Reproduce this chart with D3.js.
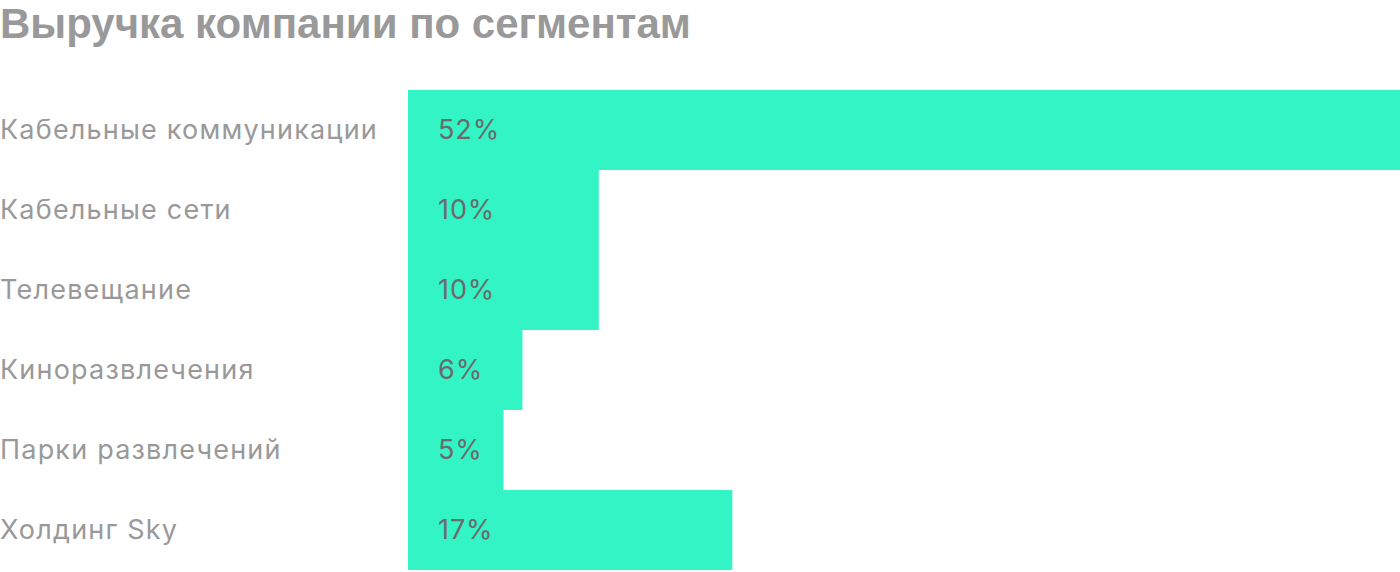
<!DOCTYPE html>
<html lang="ru">
<head>
<meta charset="utf-8">
<title>Выручка компании по сегментам</title>
<script src="https://d3js.org/d3.v7.min.js"></script>
<style>
  body { margin: 0; background: #fff; }
  svg { display: block; }
</style>
</head>
<body>
<script>
var segments = ["Кабельные коммуникации", "Кабельные сети", "Телевещание", "Киноразвлечения", "Парки развлечений", "Холдинг Sky"];
var shares = [52, 10, 10, 6, 5, 17];
var shareLabels = ["52%", "10%", "10%", "6%", "5%", "17%"];

var w = 1400, h = 572;
var svg = d3.select("body").append("svg").attr("width", w).attr("height", h);

svg.append("text")
  .attr("x", 0).attr("y", 38)
  .attr("font-family", "Liberation Sans, Arial, sans-serif")
  .attr("font-weight", "bold")
  .attr("font-size", "42px")
  .attr("fill", "#999")
  .text("Выручка компании по сегментам");

var x = d3.scaleLinear().domain([0, 52]).range([408, 1400]);
var y = d3.scaleBand().domain(segments).range([90, 570]).padding(0);

svg.selectAll("rect.bar")
  .data(shares)
  .enter().append("rect")
  .attr("class", "bar")
  .attr("x", x(0))
  .attr("y", function(d, i) { return y(segments[i]); })
  .attr("width", function(d) { return x(d) - x(0); })
  .attr("height", y.bandwidth())
  .attr("fill", "#33f4c5");

svg.selectAll("text.cat")
  .data(segments)
  .enter().append("text")
  .attr("class", "cat")
  .attr("x", 0)
  .attr("y", function(d) { return y(d) + y.bandwidth() / 2; })
  .attr("dy", "0.35em")
  .attr("font-family", "Inter, sans-serif")
  .attr("font-size", "27px")
  .attr("letter-spacing", "1.2px")
  .attr("fill", "#999")
  .text(function(d) { return d; });

svg.selectAll("text.val")
  .data(shareLabels)
  .enter().append("text")
  .attr("class", "val")
  .attr("x", x(0) + 30)
  .attr("y", function(d, i) { return y(segments[i]) + y.bandwidth() / 2; })
  .attr("dy", "0.35em")
  .attr("font-family", "Inter, sans-serif")
  .attr("font-size", "27px")
  .attr("letter-spacing", "0.9px")
  .attr("fill", "#6b6b6b")
  .text(function(d) { return d; });
</script>
</body>
</html>
